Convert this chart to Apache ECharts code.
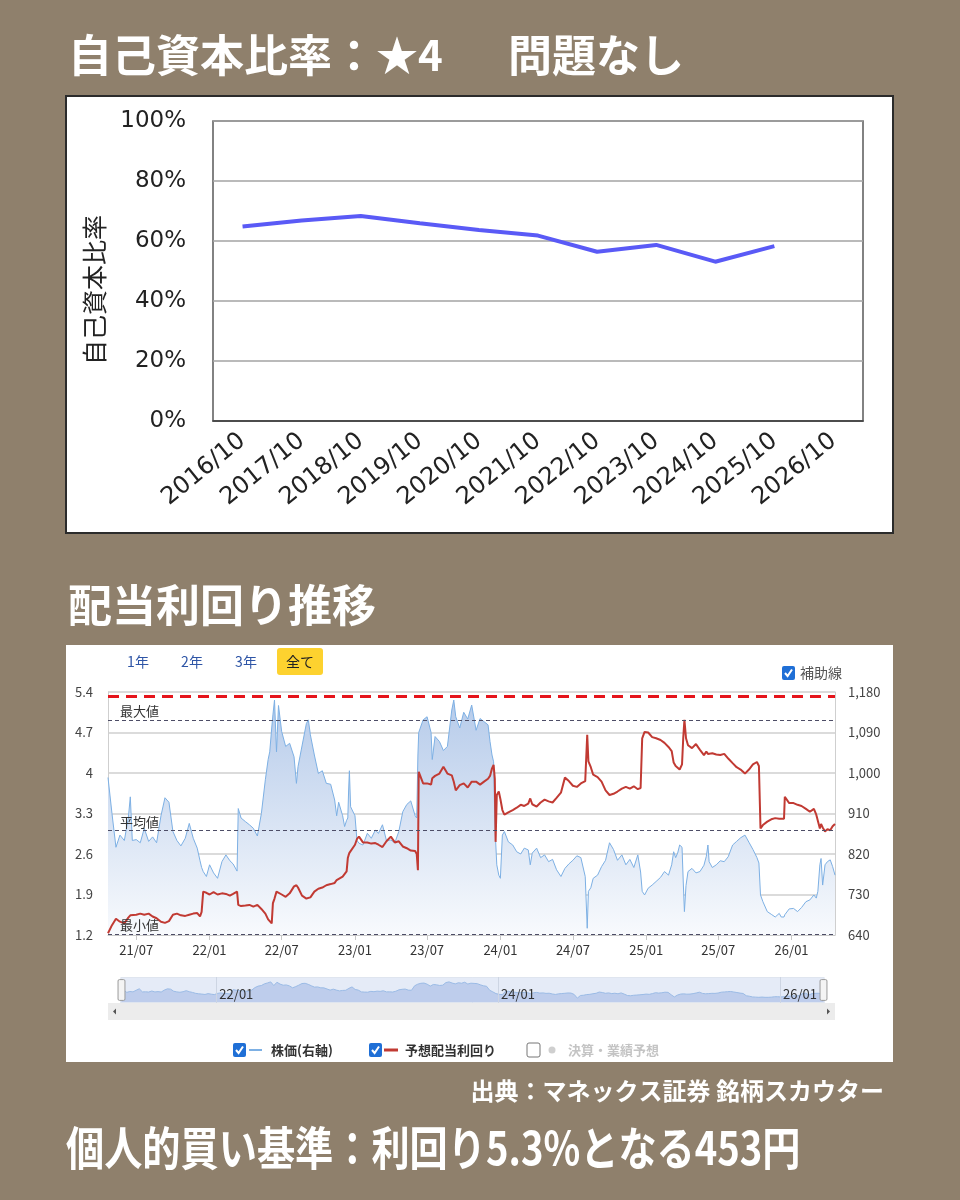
<!DOCTYPE html>
<html>
<head>
<meta charset="utf-8">
<script src="https://cdn.jsdelivr.net/npm/echarts@6/dist/echarts.min.js"></script>
<style>
  html,body{margin:0;padding:0;background:#8f806c;}
  #chart{width:960px;height:1200px;}
</style>
</head>
<body>
<div id="chart"></div>
<script>
/* 自己資本比率 + 配当利回り推移 */
var years = ['2016/10','2017/10','2018/10','2019/10','2020/10','2021/10','2022/10','2023/10','2024/10','2025/10','2026/10'];
var equityRatio = [64.8,66.8,68.3,65.9,63.7,61.8,56.4,58.7,53.1,58.3,null];

var dates = [
  '2021-04-21','2021-05-01','2021-05-11','2021-05-21','2021-06-01','2021-06-11','2021-06-16','2021-06-21',
  '2021-07-01','2021-07-11','2021-07-21','2021-08-01','2021-08-11','2021-08-21','2021-09-01','2021-09-11',
  '2021-09-21','2021-10-01','2021-10-11','2021-10-21','2021-11-01','2021-11-11','2021-11-21','2021-12-01',
  '2021-12-08','2021-12-12','2021-12-16','2021-12-24','2022-01-01','2022-01-11','2022-01-21','2022-02-01',
  '2022-02-11','2022-02-21','2022-03-01','2022-03-11','2022-03-14','2022-03-21','2022-04-01','2022-04-11',
  '2022-04-21','2022-05-01','2022-05-11','2022-05-21','2022-05-28','2022-06-01','2022-06-06','2022-06-09',
  '2022-06-13','2022-06-18','2022-06-23','2022-07-01','2022-07-11','2022-07-21','2022-08-01','2022-08-07',
  '2022-08-11','2022-08-21','2022-09-01','2022-09-06','2022-09-11','2022-09-21','2022-10-01','2022-10-11',
  '2022-10-21','2022-11-01','2022-11-11','2022-11-16','2022-11-21','2022-12-01','2022-12-06','2022-12-11',
  '2022-12-14','2022-12-16','2022-12-18','2022-12-21','2023-01-01','2023-01-06','2023-01-11','2023-01-21',
  '2023-02-01','2023-02-11','2023-02-21','2023-03-01','2023-03-11','2023-03-21','2023-04-01','2023-04-11',
  '2023-04-21','2023-05-01','2023-05-11','2023-05-21','2023-06-01','2023-06-05','2023-06-08','2023-06-10',
  '2023-06-21','2023-07-01','2023-07-11','2023-07-14','2023-07-21','2023-08-01','2023-08-11','2023-08-21',
  '2023-09-01','2023-09-06','2023-09-11','2023-09-21','2023-10-01','2023-10-11','2023-10-21','2023-11-01',
  '2023-11-11','2023-11-21','2023-12-01','2023-12-06','2023-12-11','2023-12-15','2023-12-18','2023-12-20',
  '2023-12-23','2023-12-28','2024-01-01','2024-01-06','2024-01-11','2024-01-21','2024-02-01','2024-02-11',
  '2024-02-21','2024-03-01','2024-03-11','2024-03-16','2024-03-21','2024-04-01','2024-04-11','2024-04-21',
  '2024-05-01','2024-05-11','2024-05-21','2024-06-01','2024-06-11','2024-06-21','2024-07-01','2024-07-11',
  '2024-07-21','2024-08-01','2024-08-06','2024-08-09','2024-08-15','2024-08-21','2024-09-01','2024-09-11',
  '2024-09-21','2024-10-01','2024-10-11','2024-10-21','2024-11-01','2024-11-11','2024-11-21','2024-12-01',
  '2024-12-11','2024-12-18','2024-12-22','2024-12-28','2025-01-06','2025-01-16','2025-01-26','2025-02-06',
  '2025-02-16','2025-02-26','2025-03-06','2025-03-11','2025-03-16','2025-03-21','2025-03-26','2025-04-01',
  '2025-04-04','2025-04-07','2025-04-11','2025-04-16','2025-04-26','2025-05-06','2025-05-16','2025-05-26',
  '2025-06-01','2025-06-05','2025-06-08','2025-06-16','2025-06-26','2025-07-06','2025-07-16','2025-07-26',
  '2025-08-06','2025-08-16','2025-08-26','2025-09-06','2025-09-16','2025-09-26','2025-10-06','2025-10-11',
  '2025-10-15','2025-10-21','2025-11-01','2025-11-11','2025-11-21','2025-12-01','2025-12-06','2025-12-13',
  '2025-12-15','2025-12-26','2026-01-06','2026-01-16','2026-01-26','2026-02-06','2026-02-16','2026-02-26',
  '2026-03-04','2026-03-08','2026-03-13','2026-03-16','2026-03-20','2026-03-26','2026-04-01','2026-04-08',
  '2026-04-14','2026-04-20'
];
var price = [
  990,910,835,862,850,900,947,850,
  852,845,877,848,858,845,905,945,
  935,870,850,838,855,888,855,833,
  805,790,781,770,796,778,766,803,
  818,805,798,782,921,900,892,885,
  877,860,910,985,1030,1047,1100,1129,
  1162,1047,1150,1092,1059,1066,1036,977,
  1014,1060,1110,1118,1085,1040,999,1005,
  977,975,940,905,935,905,881,895,
  900,960,1005,925,905,850,844,840,
  866,855,873,866,885,850,851,845,
  870,914,930,938,905,900,1040,1090,
  1118,1125,1090,1030,1081,1070,1050,1059,
  1140,1162,1125,1100,1135,1120,1151,1095,
  1121,1114,1107,1070,1040,1025,900,850,
  796,773,766,862,870,847,840,825,
  820,833,829,796,822,833,812,818,
  803,808,785,770,788,798,806,816,
  812,770,655,737,745,766,773,792,
  806,845,830,806,818,796,808,790,
  818,780,737,729,744,751,759,768,
  781,773,796,825,812,822,840,835,
  760,692,750,781,788,778,781,795,
  815,840,803,790,796,805,803,814,
  840,848,856,862,846,830,812,800,
  729,714,692,686,680,688,680,680,
  685,698,699,692,701,714,718,729,
  722,737,796,810,751,796,803,807,
  792,773
];
var yieldPct = [
  1.23,1.37,1.48,1.43,1.40,1.50,1.54,1.57,
  1.55,1.57,1.55,1.57,1.52,1.49,1.43,1.41,
  1.44,1.55,1.57,1.54,1.53,1.55,1.57,1.58,
  1.52,1.60,1.95,1.93,1.90,1.94,1.90,1.92,
  1.91,1.88,1.91,1.95,1.72,1.70,1.71,1.72,
  1.69,1.72,1.65,1.57,1.47,1.45,1.40,1.75,
  1.83,1.95,1.92,1.90,1.86,1.92,2.04,2.06,
  2.02,1.88,1.83,1.81,1.85,1.95,2.00,2.02,
  2.06,2.08,2.10,2.15,2.16,2.21,2.24,2.30,
  2.53,2.58,2.62,2.64,2.76,2.86,2.90,2.80,
  2.80,2.78,2.79,2.76,2.72,2.82,2.90,2.80,
  2.82,2.73,2.70,2.66,2.65,2.60,2.32,4.02,
  3.82,3.82,3.80,3.91,3.95,3.99,4.11,3.99,
  3.96,3.85,3.70,3.79,3.82,3.75,3.85,3.85,
  3.80,3.85,3.90,3.95,4.08,4.14,3.90,2.81,
  3.62,3.68,3.55,3.36,3.28,3.32,3.36,3.40,
  3.45,3.43,3.47,3.56,3.46,3.42,3.49,3.54,
  3.51,3.49,3.57,3.66,3.92,3.86,3.78,3.76,
  3.82,3.86,4.66,4.20,4.10,3.97,3.93,3.85,
  3.70,3.62,3.64,3.68,3.73,3.76,3.73,3.77,
  3.72,3.74,4.60,4.71,4.70,4.62,4.60,4.57,
  4.52,4.45,4.38,4.18,4.12,4.10,4.06,4.15,
  4.60,4.92,4.60,4.48,4.43,4.50,4.40,4.31,
  4.37,4.33,4.35,4.34,4.32,4.31,4.33,4.25,
  4.17,4.10,4.06,3.99,4.06,4.15,4.19,4.12,
  3.04,3.10,3.16,3.20,3.22,3.21,3.20,3.21,
  3.59,3.48,3.48,3.45,3.43,3.38,3.33,3.38,
  3.28,3.25,3.04,3.12,3.06,2.99,3.03,3.01,
  3.08,3.12
];

var xTicks = ['2021-07-01','2022-01-01','2022-07-01','2023-01-01','2023-07-01','2024-01-01','2024-07-01','2025-01-01','2025-07-01','2026-01-01'];
var miniTicks = ['2022-01-01','2024-01-01','2026-01-01'];
var refNames = ['最大値','平均値','最小値'];
var refValues = [4.92,3.01,1.22];
var buyYield = 5.32;
var rangeButtons = ['1年','2年','3年','全て'];
var legendNames = ['株価(右軸)','予想配当利回り','決算・業績予想'];

(function(){
  var el = document.getElementById('chart');
  var c = echarts.init(el);
  var jp = '"Noto Sans CJK JP", sans-serif';
  var white = '#ffffff';
  var blue = '#7db0e4';
  var red = '#c13a33';
  var chk = '#1f6fd6';

  function ts(s){
    var p = s.split('-');
    return new Date(+p[0], +p[1] - 1, +p[2]).getTime();
  }
  function ym(v){
    var d = new Date(v);
    var m = d.getMonth() + 1;
    return String(d.getFullYear()).slice(2) + '/' + (m < 10 ? '0' + m : m);
  }
  var t0 = ts(dates[0]), t1 = ts(dates[dates.length - 1]);

  var pricePts = dates.map(function(d, i){ return [ts(d), price[i]]; });
  var yieldPts = dates.map(function(d, i){ return [ts(d), yieldPct[i]]; });

  var refLines = [{yAxis: buyYield, lineStyle:{color:'#e5141b', width:3, type:[11,7]}, label:{show:false}}];
  refValues.forEach(function(v, i){ refLines.push({yAxis: v, name: refNames[i]}); });

  function checkbox(x, y, on){
    var g = [{type:'rect', shape:{x:x, y:y, width:13, height:14, r:2},
      style: on ? {fill:chk} : {fill:'#fff', stroke:'#777', lineWidth:1}}];
    if (on) g.push({type:'polyline', shape:{points:[[x+3,y+7],[x+5.6,y+10],[x+10,y+3.5]]},
      style:{stroke:'#fff', lineWidth:2, fill:null}});
    return g;
  }

  var ui = [
    {type:'rect', z:-10, shape:{x:66, y:96, width:827, height:437}, style:{fill:'#fff', stroke:'#2b2b2b', lineWidth:2}},
    {type:'rect', z:-10, shape:{x:66, y:645, width:827, height:417}, style:{fill:'#fff'}},
    {type:'text', x:68, y:55, style:{text:'自己資本比率：', font:'bold 44px ' + jp, fill:white, textVerticalAlign:'middle'}},
    {type:'text', x:376, y:55, style:{text:'★4', font:'bold 42px ' + jp, fill:white, textVerticalAlign:'middle'}},
    {type:'text', x:508, y:55, style:{text:'問題なし', font:'bold 44px ' + jp, fill:white, textVerticalAlign:'middle'}},
    {type:'text', x:68, y:605, style:{text:'配当利回り推移', font:'bold 44px ' + jp, fill:white, textVerticalAlign:'middle'}},
    {type:'text', x:884, y:1091, style:{text:'出典：マネックス証券 銘柄スカウター', font:'bold 24px ' + jp, fill:white, textAlign:'right', textVerticalAlign:'middle'}},
    {type:'text', x:66, y:1148, scaleX:0.83, style:{text:'個人的買い基準：利回り5.3%となる453円', font:'bold 46px ' + jp, fill:white, textVerticalAlign:'middle'}},
    {type:'rect', shape:{x:277, y:648, width:46, height:27, r:3}, style:{fill:'#fdd22f'}},
    {type:'rect', z:-5, shape:{x:108, y:1003, width:727, height:17}, style:{fill:'#ececec'}},
    {type:'polygon', shape:{points:[[113,1011.5],[116,1008.5],[116,1014.5]]}, style:{fill:'#555'}},
    {type:'polygon', shape:{points:[[830,1011.5],[827,1008.5],[827,1014.5]]}, style:{fill:'#555'}},
    {type:'text', x:800, y:673, style:{text:'補助線', font:'14px ' + jp, fill:'#555', textVerticalAlign:'middle'}},
    {type:'line', shape:{x1:249, y1:1050, x2:262, y2:1050}, style:{stroke:blue, lineWidth:2}},
    {type:'text', x:271, y:1050, style:{text:legendNames[0], font:'bold 13px ' + jp, fill:'#333', textVerticalAlign:'middle'}},
    {type:'line', shape:{x1:384, y1:1050, x2:398, y2:1050}, style:{stroke:red, lineWidth:3}},
    {type:'text', x:405, y:1050, style:{text:legendNames[1], font:'bold 13px ' + jp, fill:'#333', textVerticalAlign:'middle'}},
    {type:'circle', shape:{cx:552, cy:1050, r:3.5}, style:{fill:'#cfcfcf'}},
    {type:'text', x:568, y:1050, style:{text:legendNames[2], font:'bold 13px ' + jp, fill:'#c4c4c4', textVerticalAlign:'middle'}}
  ];
  var btnX = [138, 192, 246, 300];
  rangeButtons.forEach(function(b, i){
    ui.push({type:'text', x:btnX[i], y:662, style:{text:b, font:'14px ' + jp,
      fill: i === 3 ? '#222' : '#2e55a6', textAlign:'center', textVerticalAlign:'middle'}});
  });
  ui = ui.concat(checkbox(782, 666, true), checkbox(233, 1043, true), checkbox(369, 1043, true), checkbox(527, 1043, false));

  var option = {
    animation:false,
    backgroundColor:'#8f806c',
    graphic: ui,
    grid:[
      {left:213, right:97, top:121, bottom:779, show:true, borderColor:'#5a5a5a', borderWidth:1.5, backgroundColor:'#fff'},
      {left:108, right:125, top:692, height:243},
      {left:118, right:138, top:977, height:26}
    ],
    xAxis:[
      {type:'category', gridIndex:0, data:years, boundaryGap:true,
        axisLine:{lineStyle:{color:'#333', width:1.5}}, axisTick:{show:false},
        axisLabel:{rotate:39, margin:17, color:'#222', fontSize:24, fontFamily:'"DejaVu Sans", sans-serif', interval:0}},
      {type:'value', gridIndex:1, min:t0, max:t1, scale:true,
        axisLine:{lineStyle:{color:'#c8c8c8'}},
        axisTick:{customValues:xTicks.map(ts), length:5, lineStyle:{color:'#c8c8c8'}},
        axisLabel:{customValues:xTicks.map(ts), formatter:ym, color:'#333', fontSize:13, fontFamily:jp, margin:9},
        splitLine:{show:false}},
      {type:'value', gridIndex:2, min:t0, max:t1, scale:true, z:10,
        axisLine:{show:false},
        axisTick:{customValues:miniTicks.map(ts), inside:true, length:26, lineStyle:{color:'#cdd5e3'}},
        axisLabel:{customValues:miniTicks.map(ts), formatter:ym, inside:true, margin:2, align:'left',
          padding:[0,0,0,3], color:'#333', fontSize:13, fontFamily:jp},
        splitLine:{show:false}}
    ],
    yAxis:[
      {type:'value', gridIndex:0, min:0, max:100, interval:20,
        name:'自己資本比率', nameLocation:'middle', nameGap:106, nameRotate:90,
        nameTextStyle:{fontSize:25, color:'#222', fontFamily:jp, padding:[0,38,0,0]},
        axisLine:{show:false}, axisTick:{show:false},
        axisLabel:{formatter:'{value}%', color:'#222', fontSize:23, margin:27, fontFamily:'"DejaVu Sans", sans-serif'},
        splitLine:{lineStyle:{color:'#a3a3a3', width:1.5}}},
      {type:'value', gridIndex:1, min:1.2, max:5.4, interval:0.7,
        axisLine:{show:true, lineStyle:{color:'#cfcfcf'}}, axisTick:{show:false},
        axisLabel:{color:'#444', fontSize:13, margin:15, fontFamily:jp},
        splitLine:{lineStyle:{color:'#cfcfcf', width:1.5}}},
      {type:'value', gridIndex:1, position:'right', min:640, max:1180, interval:90,
        axisLine:{show:true, lineStyle:{color:'#cfcfcf'}}, axisTick:{show:false},
        axisLabel:{color:'#444', fontSize:13, margin:13, fontFamily:jp},
        splitLine:{show:false}},
      {type:'value', gridIndex:2, show:false, min:0, max:1}
    ],
    dataZoom:[{
      type:'slider', xAxisIndex:1, start:0, end:100,
      left:118, right:138, top:977, height:26,
      showDetail:false, brushSelect:false,
      backgroundColor:'#fff', borderColor:'#dfe5ef', borderRadius:0,
      fillerColor:'rgba(180,198,232,0.35)',
      dataBackground:{lineStyle:{color:'#8db5e4', width:1, opacity:1}, areaStyle:{color:'#c3d2ee', opacity:1}},
      selectedDataBackground:{lineStyle:{color:'#8db5e4', width:1, opacity:1}, areaStyle:{color:'#c3d2ee', opacity:1}},
      handleIcon:'path://M2,0 L8,0 Q10,0 10,2 L10,28 Q10,30 8,30 L2,30 Q0,30 0,28 L0,2 Q0,0 2,0 Z',
      handleSize:'80%',
      handleStyle:{color:'#f4f4f4', borderColor:'#9a9a9a', borderWidth:1},
      moveHandleSize:17,
      moveHandleStyle:{color:'#d2d2d2', opacity:1},
      emphasis:{handleStyle:{color:'#f4f4f4', borderColor:'#9a9a9a'}, moveHandleStyle:{color:'#d2d2d2', opacity:1}}
    }],
    series:[
      {type:'line', xAxisIndex:0, yAxisIndex:0, data:equityRatio,
        symbol:'none', lineStyle:{color:'#5a5af6', width:4}, itemStyle:{color:'#5a5af6'}},
      {type:'line', name:legendNames[0], xAxisIndex:1, yAxisIndex:2, data:pricePts,
        symbol:'none', lineStyle:{color:blue, width:1}, itemStyle:{color:blue},
        areaStyle:{opacity:1, color:new echarts.graphic.LinearGradient(0,0,0,1,[
          {offset:0, color:'#b6cbea'}, {offset:1, color:'#f8fafd'}])}},
      {type:'line', name:legendNames[1], xAxisIndex:1, yAxisIndex:1, data:yieldPts,
        symbol:'none', lineStyle:{color:red, width:2}, itemStyle:{color:red},
        markLine:{silent:true, symbol:['none','none'], animation:false,
          label:{position:'insideStartTop', formatter:'{b}', color:'#333', fontSize:13, fontFamily:jp, distance:[12,2]},
          lineStyle:{color:'#4d4d66', type:[4,3], width:1},
          data:refLines}}
    ]
  };
  c.setOption(option);
  window.addEventListener('resize', function(){ c.resize(); });
})();
</script>
</body>
</html>
